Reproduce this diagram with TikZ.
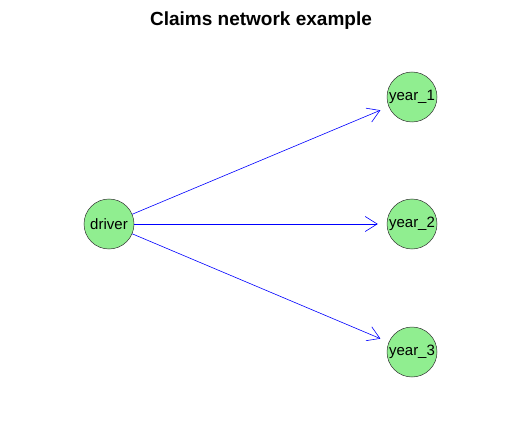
\documentclass[tikz,border=0pt]{standalone}
\usepackage{fontspec}
\setmainfont{Liberation Sans}
\usetikzlibrary{shapes.geometric, arrows.meta}
\definecolor{nodegreen}{HTML}{90EE90}
\tikzstyle{vnode} = [circle, minimum size=50pt, inner sep=0pt, font=\fontsize{15}{18}\selectfont, text centered, draw=black!80, line width=0.5pt, fill=nodegreen]
\tikzstyle{ttl} = [font=\fontsize{19}{22}\selectfont\bfseries]
\tikzstyle{arrow} = [line width=0.6pt, draw=blue, -{Straight Barb[length=12pt, width=15pt]}, shorten >=9pt]

\begin{document}
\begin{tikzpicture}[node distance=303pt]
  \useasboundingbox (0,0) rectangle (522pt,421pt);
  \node (TITL) [ttl] at (261pt,400pt) {Claims network example};
  \node (DRIV) [vnode] at (109pt,197pt) {driver};
  \node (YR2) [vnode, right of=DRIV] {year\_2};
  \node (YR1) [vnode, right of=DRIV, yshift=127pt] {year\_1};
  \node (YR3) [vnode, right of=DRIV, yshift=-128pt] {year\_3};

  \draw [arrow] (DRIV) -- (YR1);
  \draw [arrow] (DRIV) -- (YR2);
  \draw [arrow] (DRIV) -- (YR3);
\end{tikzpicture}
\end{document}
